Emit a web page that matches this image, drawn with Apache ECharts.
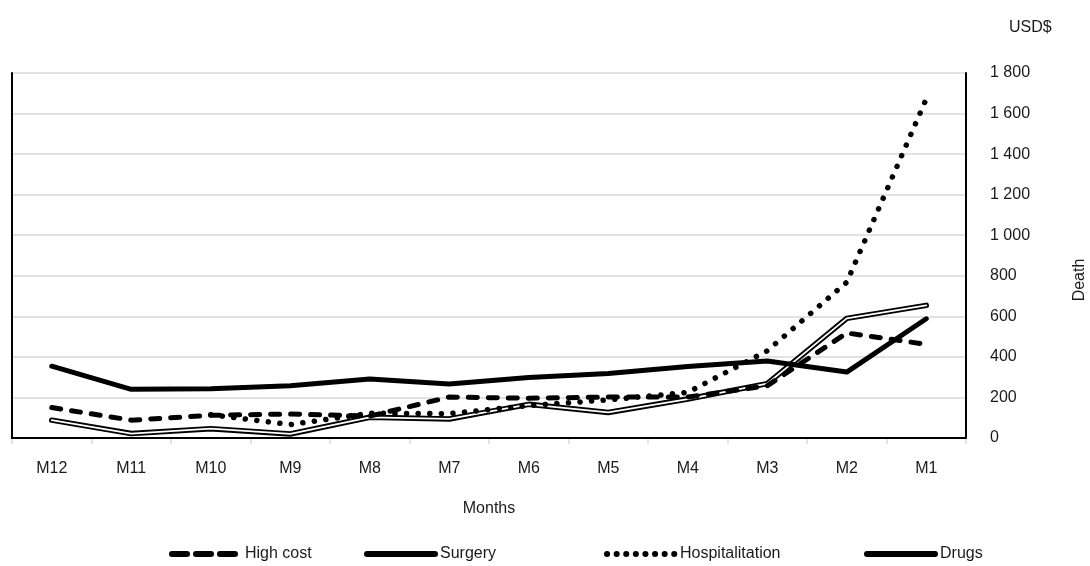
<!DOCTYPE html>
<html>
<head>
<meta charset="utf-8">
<script src="https://cdn.jsdelivr.net/npm/echarts@6/dist/echarts.min.js"></script>
<style>
  html, body { margin: 0; padding: 0; background: #ffffff; }
  #chart { width: 1090px; height: 566px; }
</style>
</head>
<body>
<div id="chart"></div>
<script>
// Monthly cost per category (USD$), oldest month on the left
const months = ['M12', 'M11', 'M10', 'M9', 'M8', 'M7', 'M6', 'M5', 'M4', 'M3', 'M2', 'M1'];
const highCost = [150, 88, 112, 118, 108, 202, 196, 202, 202, 258, 518, 462];
const surgery = [88, 22, 46, 20, 102, 94, 166, 126, 192, 268, 590, 654];
const hospitalitation = [null, null, 115, 66, 122, 120, 160, 188, 225, 430, 768, 1672];
const drugs = [354, 240, 243, 258, 291, 266, 298, 318, 353, 380, 325, 588];

const yMin = 0;
const yMax = 1800;
const yStep = 200;

const FONT = "'Liberation Sans', Arial, sans-serif";
const FS = 16;
const TEXT = '#1a1a1a';
const GRID = '#d9d9d9';

function spaced(v) {
  return String(v).replace(/\B(?=(\d{3})+(?!\d))/g, ' ');
}

const chart = echarts.init(document.getElementById('chart'), null, { renderer: 'canvas' });

// one legend block per entry so each can sit at its own offset
const legendBase = {
  orient: 'horizontal',
  top: 546,
  padding: 0,
  itemWidth: 68,
  itemHeight: 14,
  selectedMode: false,
  textStyle: { fontFamily: FONT, fontSize: FS, color: TEXT },
  lineStyle: { width: 6 },
  itemStyle: { color: 'rgba(0,0,0,0)', borderWidth: 0, borderColor: 'rgba(0,0,0,0)' }
};

function legendAt(left, name, lineStyle) {
  return Object.assign({}, legendBase, {
    left: left,
    data: [name],
    lineStyle: Object.assign({ width: 6 }, lineStyle || {})
  });
}

chart.setOption({
  animation: false,
  backgroundColor: '#ffffff',
  textStyle: { fontFamily: FONT },
  grid: { left: 12, right: 124, top: 73, bottom: 128 },
  legend: [
    legendAt(169, 'High cost', { type: [15, 9], cap: 'round' }),
    legendAt(364, 'Surgery'),
    legendAt(604, 'Hospitalitation', { type: [0.1, 9.5], cap: 'round' }),
    legendAt(864, 'Drugs')
  ],
  xAxis: [
    {
      type: 'category',
      data: months,
      position: 'bottom',
      boundaryGap: true,
      axisLine: { show: true, lineStyle: { color: GRID, width: 1.5 } },
      axisTick: { show: true, length: 6, lineStyle: { color: GRID, width: 1.5 } },
      axisLabel: { color: TEXT, fontSize: FS, fontFamily: FONT, margin: 23 },
      name: 'Months',
      nameLocation: 'middle',
      nameGap: 63,
      nameTextStyle: { color: TEXT, fontSize: FS, fontFamily: FONT }
    },
    {
      type: 'category',
      data: months,
      position: 'top',
      boundaryGap: true,
      z: 5,
      axisLine: { show: true, lineStyle: { color: '#000000', width: 2 } },
      axisTick: { show: false },
      axisLabel: { show: false },
      splitLine: { show: false }
    }
  ],
  yAxis: [
    {
      type: 'value',
      position: 'right',
      min: yMin,
      max: yMax,
      interval: yStep,
      axisLine: { show: true, lineStyle: { color: '#000000', width: 2 } },
      axisTick: { show: false },
      axisLabel: {
        color: TEXT, fontSize: FS, fontFamily: FONT, margin: 24,
        formatter: spaced
      },
      splitLine: { show: true, lineStyle: { color: GRID, width: 1.5 } }
    },
    {
      type: 'value',
      position: 'left',
      min: yMin,
      max: yMax,
      interval: yStep,
      z: 5,
      axisLine: { show: true, lineStyle: { color: '#000000', width: 2 } },
      axisTick: { show: false },
      axisLabel: { show: false },
      splitLine: { show: false }
    }
  ],
  graphic: [
    {
      type: 'text',
      left: 1009,
      top: 20,
      style: { text: 'USD$', fill: TEXT, font: FS + 'px ' + FONT }
    },
    {
      type: 'text',
      x: 1080,
      y: 280,
      rotation: Math.PI / 2,
      style: { text: 'Death', fill: TEXT, font: FS + 'px ' + FONT, align: 'center', verticalAlign: 'middle' }
    }
  ],
  series: [
    {
      name: 'Surgery',
      type: 'line',
      data: surgery,
      symbol: 'none',
      z: 2,
      lineStyle: { color: '#000000', width: 5.5, join: 'round', cap: 'round' },
      itemStyle: { color: '#000000' }
    },
    {
      name: 'Surgery',
      type: 'line',
      data: surgery,
      symbol: 'none',
      z: 3,
      lineStyle: { color: '#ffffff', width: 1.8, join: 'round', cap: 'round' },
      itemStyle: { color: '#ffffff' }
    },
    {
      name: 'High cost',
      type: 'line',
      data: highCost,
      symbol: 'none',
      z: 4,
      lineStyle: { color: '#000000', width: 5, type: [9, 11], cap: 'round', join: 'round' },
      itemStyle: { color: '#000000' }
    },
    {
      name: 'Hospitalitation',
      type: 'line',
      data: hospitalitation,
      symbol: 'none',
      z: 5,
      lineStyle: { color: '#000000', width: 5.5, type: [0.1, 11.5], cap: 'round', join: 'round' },
      itemStyle: { color: '#000000' }
    },
    {
      name: 'Drugs',
      type: 'line',
      data: drugs,
      symbol: 'none',
      z: 6,
      lineStyle: { color: '#000000', width: 5, join: 'round', cap: 'round' },
      itemStyle: { color: '#000000' }
    }
  ]
});
</script>
</body>
</html>
